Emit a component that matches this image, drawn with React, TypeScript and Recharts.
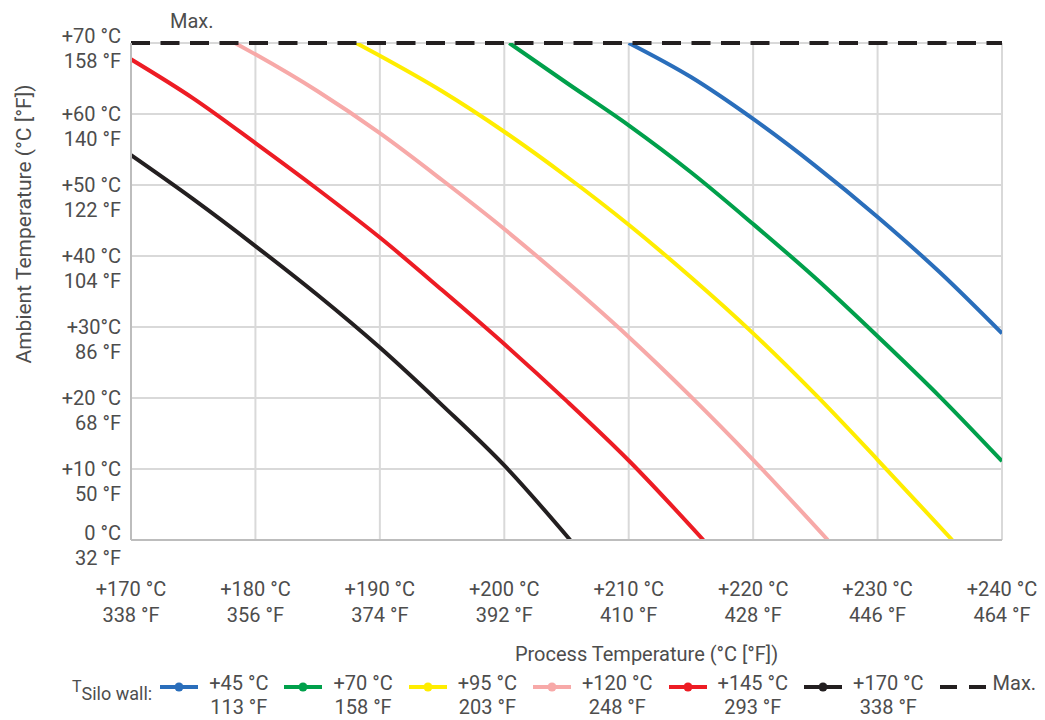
import { LineChart, Line, XAxis, YAxis, CartesianGrid, ReferenceLine, Label } from 'recharts'

// process temperature ticks (°C) and their labels
const xTicks = [170, 180, 190, 200, 210, 220, 230, 240]
const xTickC = ['+170 °C', '+180 °C', '+190 °C', '+200 °C', '+210 °C', '+220 °C', '+230 °C', '+240 °C']
const xTickF = ['338 °F', '356 °F', '374 °F', '392 °F', '410 °F', '428 °F', '446 °F', '464 °F']

// ambient temperature ticks (°C) and their labels
const yTicks = [0, 10, 20, 30, 40, 50, 60, 70]
const yTickC = ['0 °C', '+10 °C', '+20 °C', '+30°C', '+40 °C', '+50 °C', '+60 °C', '+70 °C']
const yTickF = ['32 °F', '50 °F', '68 °F', '86 °F', '104 °F', '122 °F', '140 °F', '158 °F']

const maxAmbient = 70

// one curve per silo wall temperature: x = process °C, y = ambient °C
const wall45 = [
  { x: 210, y: 70 },
  { x: 215, y: 65.2 },
  { x: 220, y: 59.3 },
  { x: 225, y: 52.7 },
  { x: 230, y: 45.5 },
  { x: 235, y: 37.7 },
  { x: 240, y: 29.1 },
]
const wall70 = [
  { x: 200.4, y: 70 },
  { x: 205, y: 64.4 },
  { x: 210, y: 58.4 },
  { x: 215, y: 51.8 },
  { x: 220, y: 44.5 },
  { x: 225, y: 36.9 },
  { x: 230, y: 28.7 },
  { x: 235, y: 20.2 },
  { x: 240, y: 11.1 },
]
const wall95 = [
  { x: 188.1, y: 70 },
  { x: 190, y: 68.2 },
  { x: 195, y: 63.2 },
  { x: 200, y: 57.5 },
  { x: 205, y: 51.2 },
  { x: 210, y: 44.4 },
  { x: 215, y: 37.0 },
  { x: 220, y: 29.1 },
  { x: 225, y: 20.5 },
  { x: 230, y: 11.3 },
  { x: 236, y: 0 },
]
const wall120 = [
  { x: 178.35, y: 70 },
  { x: 180, y: 68.4 },
  { x: 185, y: 63.2 },
  { x: 190, y: 57.3 },
  { x: 195, y: 50.7 },
  { x: 200, y: 43.8 },
  { x: 205, y: 36.4 },
  { x: 210, y: 28.6 },
  { x: 215, y: 20.2 },
  { x: 220, y: 11.3 },
  { x: 226, y: 0 },
]
const wall145 = [
  { x: 170, y: 67.7 },
  { x: 175, y: 62.2 },
  { x: 180, y: 55.9 },
  { x: 185, y: 49.4 },
  { x: 190, y: 42.6 },
  { x: 195, y: 35.2 },
  { x: 200, y: 27.6 },
  { x: 205, y: 19.6 },
  { x: 210, y: 11.2 },
  { x: 216, y: 0 },
]
const wall170 = [
  { x: 170, y: 54.2 },
  { x: 175, y: 48.0 },
  { x: 180, y: 41.4 },
  { x: 185, y: 34.5 },
  { x: 190, y: 27.1 },
  { x: 195, y: 19.0 },
  { x: 200, y: 10.5 },
  { x: 205.3, y: 0 },
]

const series = [
  { c: '+45 °C', f: '113 °F', color: '#2a6ebb', data: wall45 },
  { c: '+70 °C', f: '158 °F', color: '#00a04b', data: wall70 },
  { c: '+95 °C', f: '203 °F', color: '#ffed00', data: wall95 },
  { c: '+120 °C', f: '248 °F', color: '#f7a9a8', data: wall120 },
  { c: '+145 °C', f: '293 °F', color: '#ed1c24', data: wall145 },
  { c: '+170 °C', f: '338 °F', color: '#231f20', data: wall170 },
]

const FONT = "Roboto, 'Noto Sans', sans-serif"
const FS = 20
const TEXT = '#4d4d4d'
const GRID = '#d9d9d9'

function XTick(props: any) {
  const { x, y, payload } = props
  const i = xTicks.indexOf(payload.value)
  return (
    <text x={x} y={y} textAnchor="middle" fill={TEXT} fontSize={FS} fontFamily={FONT}>
      <tspan x={x} dy={48}>{xTickC[i]}</tspan>
      <tspan x={x} dy={26}>{xTickF[i]}</tspan>
    </text>
  )
}

function YTick(props: any) {
  const { x, y, payload } = props
  const i = yTicks.indexOf(payload.value)
  // bottom and top labels sit a little higher in the original
  const shift = payload.value === 0 || payload.value === 70 ? -7 : 0
  return (
    <text x={x - 2} y={y + shift} textAnchor="end" fill={TEXT} fontSize={FS} fontFamily={FONT}>
      <tspan x={x - 2} dy={7}>{yTickC[i]}</tspan>
      <tspan x={x - 2} dy={25}>{yTickF[i]}</tspan>
    </text>
  )
}

function LegendIcon({ color }: { color: string }) {
  return (
    <svg width={38} height={24} style={{ display: 'block', marginTop: 4 }}>
      <line x1={0} y1={12} x2={38} y2={12} stroke={color} strokeWidth={4} />
      <circle cx={19} cy={12} r={4.5} fill={color} />
    </svg>
  )
}

function SiloLegend() {
  return (
    <div
      style={{
        position: 'absolute',
        left: 72,
        top: 671,
        display: 'flex',
        alignItems: 'flex-start',
        fontFamily: FONT,
        color: TEXT,
        fontSize: FS,
        lineHeight: '24px',
        whiteSpace: 'nowrap',
      }}
    >
      <div style={{ paddingTop: 10, marginRight: 8, lineHeight: '24px' }}>
        <span style={{ fontSize: 16, position: 'relative', top: -8 }}>T</span>
        <span style={{ fontSize: 18 }}>Silo wall:</span>
      </div>
      {series.map((s) => (
        <div key={s.c} style={{ display: 'flex', alignItems: 'flex-start', marginRight: 16 }}>
          <LegendIcon color={s.color} />
          <div style={{ marginLeft: 11, textAlign: 'center' }}>
            <div>{s.c}</div>
            <div>{s.f}</div>
          </div>
        </div>
      ))}
      <div style={{ display: 'flex', alignItems: 'flex-start' }}>
        <svg width={46} height={24} style={{ display: 'block', marginTop: 4 }}>
          <line x1={0} y1={12} x2={46} y2={12} stroke="#231f20" strokeWidth={4} strokeDasharray="17 12" />
        </svg>
        <div style={{ marginLeft: 7 }}>Max.</div>
      </div>
    </div>
  )
}

export default function App() {
  return (
    <div style={{ position: 'absolute', left: 0, top: 0, width: 1045, height: 720, background: '#fff' }}>
      <LineChart width={1045} height={720} margin={{ top: 43, right: 43, left: 0, bottom: 0 }}>
        <CartesianGrid stroke={GRID} strokeWidth={2} horizontalValues={yTicks} verticalValues={xTicks} />
        <XAxis
          type="number"
          dataKey="x"
          domain={[170, 240]}
          ticks={xTicks}
          allowDataOverflow
          height={180}
          axisLine={{ stroke: '#bdbdbd', strokeWidth: 2 }}
          tickLine={false}
          tick={<XTick />}
          interval={0}
        >
          <Label
            content={(p: any) => (
              <text
                x={p.viewBox.x + p.viewBox.width / 2 + 80}
                y={p.viewBox.y + 121}
                textAnchor="middle"
                fill={TEXT}
                fontSize={FS}
                fontFamily={FONT}
              >
                Process Temperature (°C [°F])
              </text>
            )}
          />
        </XAxis>
        <YAxis
          type="number"
          dataKey="y"
          domain={[0, 70]}
          ticks={yTicks}
          allowDataOverflow
          width={131}
          axisLine={{ stroke: '#bdbdbd', strokeWidth: 2 }}
          tickLine={false}
          tick={<YTick />}
          interval={0}
        >
          <Label
            content={(p: any) => {
              const cx = 24
              const cy = p.viewBox.y + 181
              return (
                <text
                  x={cx}
                  y={cy}
                  transform={`rotate(-90 ${cx} ${cy})`}
                  textAnchor="middle"
                  dominantBaseline="central"
                  fill={TEXT}
                  fontSize={21}
                  fontFamily={FONT}
                >
                  Ambient Temperature (°C [°F])
                </text>
              )
            }}
          />
        </YAxis>
        {series.map((s) => (
          <Line
            key={s.c}
            data={s.data}
            dataKey="y"
            type="monotone"
            stroke={s.color}
            strokeWidth={4}
            dot={false}
            activeDot={false}
            isAnimationActive={false}
          />
        ))}
        <ReferenceLine
          y={maxAmbient}
          stroke="#231f20"
          strokeWidth={4}
          strokeDasharray="19 10.5"
          label={(p: any) => (
            <text x={p.viewBox.x + 39} y={p.viewBox.y - 15} fill={TEXT} fontSize={FS} fontFamily={FONT}>
              Max.
            </text>
          )}
        />
      </LineChart>
      <SiloLegend />
    </div>
  )
}
